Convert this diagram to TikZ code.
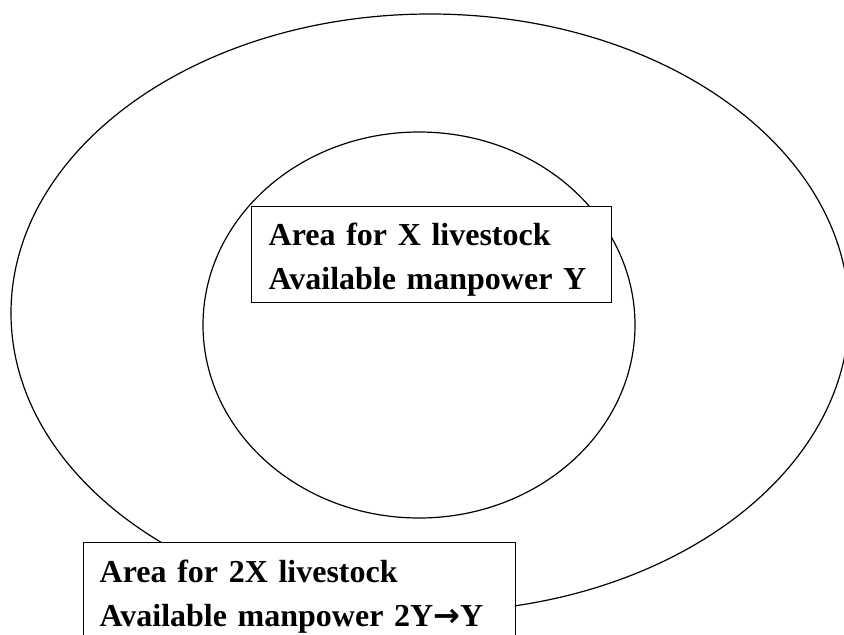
\documentclass[tikz,border=0pt]{standalone}
\usepackage{fontspec}
\setmainfont{Liberation Serif}
\newfontfamily\arrowfont{DejaVu Sans}
\usepackage{tikz}

\begin{document}
\begin{tikzpicture}[x=1pt, y=-1pt,
  every node/.style={font=\fontsize{32}{44}\selectfont\bfseries},
  areabox/.style={draw, fill=white, line width=1.3pt, align=left, anchor=north west, text height=21pt}]
% Page frame
\clip (0,0) rectangle (844,635);

% Draw the outer area
\draw[line width=1.2pt] (430,313) ellipse [x radius=419, y radius=299];
% Draw the inner area
\draw[line width=1.2pt] (419,325) ellipse [x radius=216, y radius=193];

% Inner area label
\node[areabox, text width=326pt, inner xsep=17pt, inner ysep=18pt, text depth=39pt] (innerlabel) at (251,206)
  {Area for X livestock\\Available manpower Y};

% Outer area label
\node[areabox, text width=400pt, inner xsep=16pt, inner ysep=19pt, text depth=50pt] (outerlabel) at (83,542)
  {Area for 2X livestock\\Available manpower 2Y{\arrowfont →}Y};
\end{tikzpicture}
\end{document}
